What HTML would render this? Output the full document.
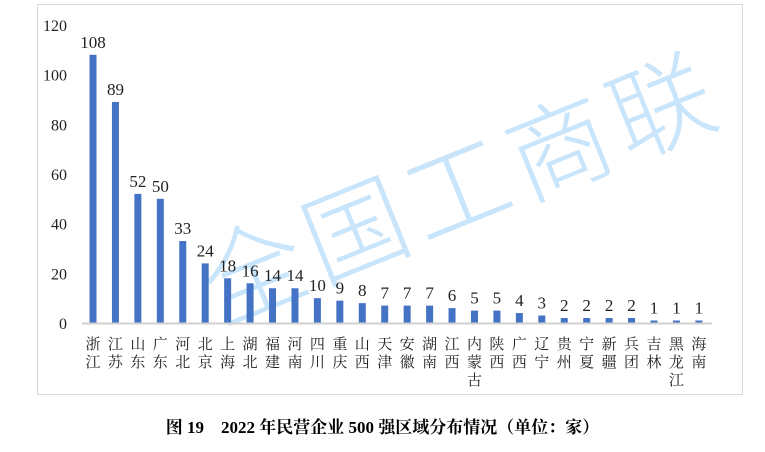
<!DOCTYPE html>
<html><head><meta charset="utf-8">
<style>
body{margin:0;background:#fff;width:765px;height:452px;overflow:hidden;font-family:"Liberation Serif","Noto Serif CJK SC",serif;}
#frame{position:absolute;left:37px;top:4px;width:706px;height:391px;border:1px solid #d9d9d9;box-sizing:border-box;}
#caption{position:absolute;left:0;width:765px;top:413px;text-align:center;font-size:17px;font-weight:bold;font-family:"Liberation Serif","Noto Serif CJK SC",serif;}
svg{position:absolute;left:0;top:0;}
</style></head><body>
<div id="frame"></div>
<svg id="chart" width="765" height="452">
<text x="475" y="222" transform="rotate(-22 475 222)" text-anchor="middle" font-size="102" fill="#bfe1fa" fill-opacity="0.85" font-family="'Noto Sans CJK SC',sans-serif" font-weight="300" letter-spacing="8">全国工商联</text>
</svg>
<div id="caption">图 19　2022 年民营企业 500 强区域分布情况（单位：家）</div>
<script>
const categories=["浙江","江苏","山东","广东","河北","北京","上海","湖北","福建","河南","四川","重庆","山西","天津","安徽","湖南","江西","内蒙古","陕西","广西","辽宁","贵州","宁夏","新疆","兵团","吉林","黑龙江","海南"];
const values=[108,89,52,50,33,24,18,16,14,14,10,9,8,7,7,7,6,5,5,4,3,2,2,2,2,1,1,1];
const yTicks=[0,20,40,60,80,100,120];
const NS="http://www.w3.org/2000/svg";
const svg=document.getElementById('chart');
const y0=323,yTop=25,yMax=120;
function y(v){return y0-(v/yMax)*(y0-yTop);}
function x(i){return 93+i*22.44;}
function mk(t,a){const e=document.createElementNS(NS,t);for(const k in a)e.setAttribute(k,a[k]);svg.appendChild(e);return e;}
yTicks.forEach(t=>{
 const e=mk('text',{x:67,y:y(t)+6,'text-anchor':'end','font-size':16,fill:'#222'});
 
 
 e.textContent=t;
});
values.forEach((v,i)=>{
 const b=mk('rect',{x:x(i)-3.5,y:y(v),width:7,height:y0-y(v),fill:'#4472c4'});
 
 
 const l=mk('text',{x:x(i),y:y(v)-7,'text-anchor':'middle','font-size':17,fill:'#222'});
 
 
 l.textContent=v;
 [...categories[i]].forEach((ch,j)=>{
  const c=mk('text',{x:x(i),y:349+j*18,'text-anchor':'middle','font-size':15,fill:'#222','font-family':"'Noto Serif CJK SC',serif"});
  
  
  c.textContent=ch;
 });
});
const ax=mk('line',{x1:82,x2:712,y1:y0+0.5,y2:y0+0.5,stroke:'#d0d0d0','stroke-width':2});


</script>
</body></html>
